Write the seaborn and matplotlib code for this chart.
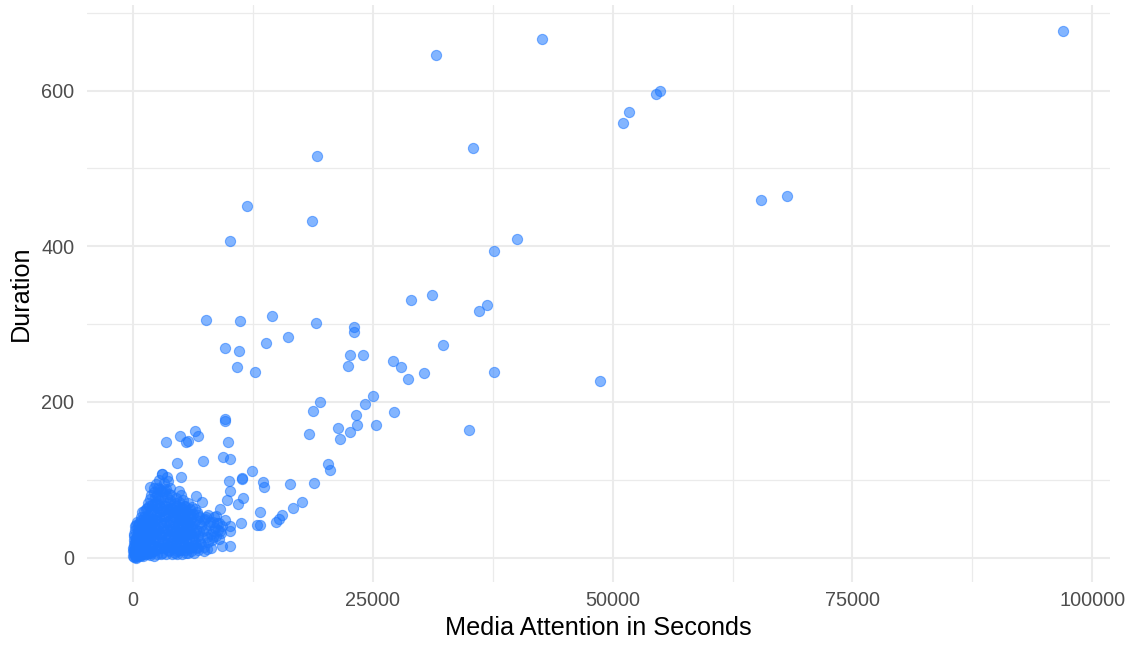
import matplotlib
matplotlib.use("Agg")
import matplotlib.pyplot as plt
import matplotlib.ticker as mticker
import seaborn as sns
import pandas as pd

# Events far from the origin: media attention (seconds) and duration
spread_seconds = [
    97000, 42640, 31620, 54910, 54490, 51740, 51050, 35480, 19150, 11920,
    18630, 65470, 68150, 40000, 37670, 10110, 28980, 31170, 36070, 36900,
    7640, 11160, 14520, 19110, 23040, 23040, 9620, 11050, 13900, 16190,
    10810, 12680, 22590, 24010, 22410, 27140, 27950, 28670, 30300, 32320,
    37670, 48690, 19530, 18770, 25020, 24150, 23280, 27170, 9620, 35060,
    25300, 23380, 21400, 22590, 21580, 18310, 20290, 20540, 18900, 16400,
    13520, 13660, 12440, 11360, 11430, 17620, 16710, 15570, 15250, 14910,
    13240, 12900, 13240, 11260,
]
spread_duration = [
    677, 666, 646, 600, 596, 572, 559, 526, 516, 452,
    432, 460, 464, 409, 394, 407, 331, 338, 317, 324,
    305, 304, 310, 302, 296, 290, 269, 266, 276, 283,
    245, 238, 260, 260, 246, 252, 245, 230, 237, 273,
    239, 227, 200, 188, 207, 198, 183, 187, 178, 164,
    170, 170, 166, 162, 153, 159, 120, 112, 96, 94,
    97, 91, 111, 102, 76, 72, 64, 55, 50, 46,
    58, 42, 42, 44,
]

# Events on the edge of the dense group
edge_seconds = [
    3440, 5770, 9940, 4900, 6460, 6810, 5530, 9590, 4590, 7300,
    9350, 10080, 4970, 2990, 1770, 11330, 10010, 4830, 6570, 7160,
    10110, 9830, 10980, 9070, 10110, 9250, 10110, 7680, 6640, 9070,
    8370,
]
edge_duration = [
    148, 150, 148, 156, 163, 156, 149, 176, 121, 124,
    129, 127, 104, 107, 91, 101, 98, 85, 79, 72,
    85, 74, 69, 62, 34, 15, 15, 11, 14, 34,
    27,
]

# The dense group of short, little-covered events
core_seconds = [
    20, 60, 100, 150, 200, 250, 300, 350, 400, 450,
    500, 550, 600, 650, 700, 750, 800, 850, 900, 950,
    120, 180, 280, 380, 480, 580, 680, 780, 880, 980,
    30, 70, 330, 430, 530, 630, 730, 830, 930, 990,
    1050, 1100, 1150, 1200, 1250, 1300, 1350, 1400, 1450, 1500,
    1550, 1600, 1650, 1700, 1750, 1800, 1850, 1900, 1950, 1980,
    1120, 1330, 1560, 1770, 1420, 1680, 1880, 1230, 1610, 1860,
    2050, 2100, 2150, 2200, 2250, 2300, 2350, 2400, 2450, 2500,
    2550, 2600, 2650, 2700, 2750, 2800, 2850, 2900, 2950, 2980,
    2150, 2400, 2600, 2750, 2990, 2200,
    3050, 3100, 3150, 3200, 3250, 3300, 3350, 3400, 3450, 3500,
    3550, 3600, 3650, 3700, 3750, 3800, 3850, 3900, 3950, 3980,
    3510, 3200, 3750,
    4050, 4100, 4150, 4200, 4250, 4300, 4350, 4400, 4450, 4500,
    4550, 4600, 4650, 4700, 4750, 4800, 4850, 4900, 4950, 4980,
    5050, 5100, 5150, 5200, 5250, 5300, 5350, 5400, 5450, 5500,
    5550, 5600, 5650, 5700, 5750, 5800, 5850, 5900, 5950,
    6050, 6100, 6200, 6300, 6400, 6500, 6600, 6700, 6800, 6900,
    6150, 6450, 6750, 6950,
    7100, 7300, 7500, 7700, 7900, 8100, 8300, 8500, 8700, 8900,
    7400, 7800, 8200, 8600, 9000, 9300, 9600, 10100,
]
core_duration = [
    2, 5, 1, 8, 3, 12, 6, 15, 2, 9,
    18, 4, 11, 22, 7, 14, 3, 19, 26, 10,
    14, 20, 25, 28, 31, 8, 35, 28, 16, 5,
    9, 17, 1, 22, 26, 13, 30, 38, 21, 33,
    2, 12, 25, 40, 8, 18, 33, 48, 5, 22,
    38, 55, 14, 29, 45, 3, 60, 19, 35, 50,
    52, 62, 70, 75, 30, 6, 42, 28, 44, 27,
    8, 24, 40, 56, 70, 15, 32, 48, 64, 80,
    4, 20, 36, 52, 68, 88, 12, 28, 44, 60,
    84, 95, 76, 100, 107, 90,
    6, 22, 38, 54, 70, 86, 14, 30, 46, 62,
    78, 98, 10, 26, 42, 58, 74, 90, 18, 34,
    104, 96, 82,
    5, 21, 37, 53, 69, 12, 28, 44, 60, 76,
    8, 24, 40, 56, 72, 16, 32, 48, 64, 80,
    10, 26, 42, 58, 74, 18, 34, 50, 66, 6,
    22, 38, 54, 70, 14, 30, 46, 62, 40,
    8, 24, 40, 56, 16, 32, 48, 12, 28, 44,
    65, 62, 55, 20,
    18, 34, 50, 26, 42, 30, 46, 38, 53, 35,
    14, 55, 22, 28, 44, 40, 48, 40,
]

# More events packed into the same dense group
packed_seconds = [
    40, 90, 140, 190, 240, 290, 340, 390, 440, 490,
    540, 590, 640, 690, 740, 790, 840, 890, 940, 970,
    60, 160, 260, 360, 460, 560, 660, 760, 860, 960,
    1030, 1080, 1130, 1180, 1230, 1280, 1330, 1380, 1430, 1480,
    1530, 1580, 1630, 1680, 1730, 1780, 1830, 1880, 1930, 1990,
    2030, 2080, 2130, 2180, 2230, 2280, 2330, 2380, 2430, 2480,
    2530, 2580, 2630, 2680, 2730, 2780, 2830, 2880, 2930, 2980,
    3030, 3080, 3130, 3180, 3230, 3280, 3330, 3380, 3430, 3480,
    3530, 3580, 3630, 3680, 3730, 3780, 3830, 3880, 3930, 3990,
    4030, 4080, 4130, 4180, 4230, 4280, 4330, 4380, 4430, 4480,
    4530, 4580, 4630, 4680, 4730, 4780, 4830, 4880, 4930, 4990,
    5030, 5080, 5130, 5180, 5230, 5280, 5330, 5380, 5430, 5480,
    5530, 5580, 5630, 5680, 5730, 5780, 5830, 5880, 5930, 5990,
    6030, 6080, 6130, 6230, 6330, 6380, 6480, 6580, 6680, 6780,
    6880, 6930,
    7050, 7200, 7350, 7450, 7600, 7650, 7850, 8000, 8150, 8350,
    8450, 8800, 8950, 9200,
]
packed_duration = [
    12, 22, 30, 6, 36, 18, 42, 10, 46, 4,
    34, 20, 44, 2, 24, 48, 9, 32, 44, 17,
    28, 40, 0, 20, 14, 40, 27, 5, 52, 58,
    20, 36, 4, 60, 16, 50, 10, 26, 64, 40,
    8, 30, 66, 50, 18, 36, 6, 80, 24, 68,
    46, 62, 16, 30, 2, 48, 78, 10, 34, 56,
    72, 42, 90, 14, 30, 58, 74, 4, 86, 20,
    30, 62, 84, 12, 44, 20, 66, 52, 4, 88,
    36, 18, 56, 72, 8, 34, 48, 14, 64, 80,
    30, 62, 12, 46, 24, 58, 6, 70, 34, 18,
    50, 66, 4, 30, 44, 60, 10, 24, 36, 54,
    48, 64, 4, 34, 20, 50, 66, 10, 28, 44,
    60, 14, 30, 46, 6, 52, 22, 38, 12, 56,
    32, 50, 14, 28, 44, 6, 20, 36, 58, 10,
    34, 52,
    40, 26, 48, 8, 36, 52, 20, 46, 12, 34,
    52, 44, 24, 32,
]

x_ticks = [0, 25000, 50000, 75000, 100000]
y_ticks = [0, 200, 400, 600]

events = pd.DataFrame({
    "Media Attention in Seconds": core_seconds + packed_seconds + edge_seconds + spread_seconds,
    "Duration": core_duration + packed_duration + edge_duration + spread_duration,
})

sns.set_style("white")
plt.rcParams["font.family"] = ["Liberation Sans", "DejaVu Sans"]

fig = plt.figure(figsize=(11.29, 6.45), dpi=100)
ax = fig.add_axes([0.0768, 0.0981, 0.9064, 0.8941])

sns.scatterplot(
    data=events, x="Media Attention in Seconds", y="Duration", ax=ax,
    color="#1E78FF", alpha=0.55, s=54, edgecolor="#1E78FF", linewidth=0.8,
    zorder=3,
)

ax.set_xlim(-4827, 101856)
ax.set_ylim(-31, 710)
ax.xaxis.set_major_locator(mticker.FixedLocator(x_ticks))
ax.yaxis.set_major_locator(mticker.FixedLocator(y_ticks))
ax.xaxis.set_minor_locator(mticker.MultipleLocator(12500))
ax.yaxis.set_minor_locator(mticker.MultipleLocator(100))
ax.xaxis.set_major_formatter(mticker.FuncFormatter(lambda v, p: f"{int(v)}"))
ax.yaxis.set_major_formatter(mticker.FuncFormatter(lambda v, p: f"{int(v)}"))

ax.grid(which="major", color="#EBEBEB", linewidth=1.5, zorder=0)
ax.grid(which="minor", color="#EBEBEB", linewidth=0.9, zorder=0)
ax.set_axisbelow(True)
for spine in ax.spines.values():
    spine.set_visible(False)

ax.tick_params(which="both", length=0)
ax.tick_params(axis="x", which="major", labelsize=14.3, labelcolor="#4D4D4D", pad=7)
ax.tick_params(axis="y", which="major", labelsize=14.3, labelcolor="#4D4D4D", pad=9)

ax.set_xlabel("Media Attention in Seconds", fontsize=18.2, color="black", labelpad=4)
ax.set_ylabel("Duration", fontsize=18.2, color="black", labelpad=6)

fig.savefig("out.png", dpi=100)
